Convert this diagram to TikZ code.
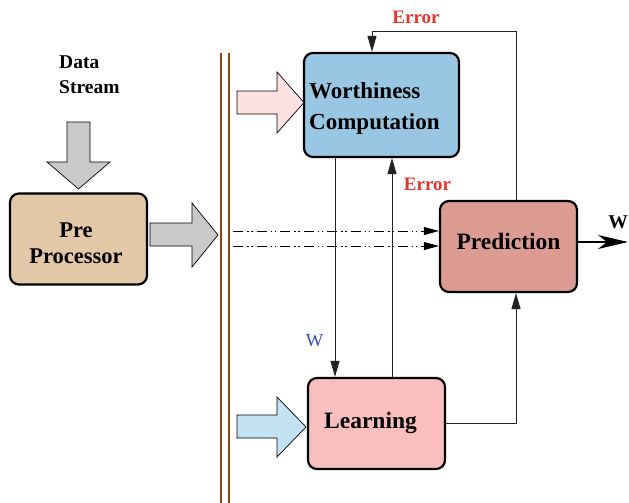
\documentclass[tikz,border=0pt]{standalone}
\usepackage{fontspec}
\setmainfont{Liberation Serif}
\usetikzlibrary{arrows.meta}

\definecolor{prefill}{HTML}{E3C8A8}
\definecolor{wcfill}{HTML}{98C6E3}
\definecolor{predfill}{HTML}{DD9C92}
\definecolor{learnfill}{HTML}{F9BFBF}
\definecolor{greyarrow}{HTML}{C8C9C9}
\definecolor{pinkarrow}{HTML}{FDE0E0}
\definecolor{bluearrow}{HTML}{C3E3F5}
\definecolor{errred}{HTML}{E0382E}
\definecolor{wblue}{HTML}{3A4DA8}
\definecolor{barbrown}{HTML}{8B4513}
\definecolor{linegrey}{HTML}{222222}

\tikzset{
  block/.style={draw=black, line width=2.2pt, rounded corners=9pt, inner sep=0pt},
  blocktext/.style={font=\bfseries\fontsize{23.5}{31}\selectfont, inner sep=0pt},
  fatarrow/.style={draw=black, line width=0.7pt, line join=miter},
  conn/.style={draw=linegrey, line width=1pt, -{Triangle[length=16pt,width=9pt]}},
  ddline/.style={draw=black, line width=1pt,
    dash pattern=on 10pt off 4pt on 1.5pt off 2.5pt on 1.5pt off 4pt,
    -{Triangle[length=15pt,width=8pt]}},
  outarrow/.style={draw=black, line width=1.8pt,
    -{Stealth[length=30pt,width=14pt,inset=9pt]}},
  errlabel/.style={font=\bfseries\fontsize{19}{22}\selectfont, text=errred, inner sep=0pt, anchor=base},
  barline/.style={draw=barbrown, line width=2pt},
}

\begin{document}
\begin{tikzpicture}[x=1pt, y=-1pt]
\useasboundingbox (0,0) rectangle (629,503);

% main blocks
\node[block, fill=prefill,   minimum width=137pt, minimum height=91pt] (pre)   at (78.5,239)  {};
\node[block, fill=wcfill,    minimum width=155pt, minimum height=104pt] (wc)   at (381.5,105) {};
\node[block, fill=predfill,  minimum width=137pt, minimum height=91pt] (pred)  at (508.5,246.5) {};
\node[block, fill=learnfill, minimum width=137pt, minimum height=91pt] (learn) at (376.5,423.5) {};

% block captions
\node[blocktext, align=center, font=\bfseries\fontsize{22.5}{26}\selectfont] (pretext) at (76,243) {Pre\\Processor};
\node[blocktext, align=left, anchor=west, font=\bfseries\fontsize{23}{31}\selectfont] (wctext) at (309,108) {Worthiness\\Computation};
\node[blocktext, anchor=base] (predtext) at (508.5,249) {Prediction};
\node[blocktext, anchor=base] (learntext) at (370.5,428) {Learning};

% input label
\node[font=\bfseries\fontsize{19.5}{25}\selectfont, align=left, anchor=north west, inner sep=0pt] (ds) at (59,56) {Data\\Stream};

% broad input arrows
\draw[fatarrow, fill=greyarrow] (67,122) -- (90,122) -- (90,162) -- (110,162) -- (78.5,189) -- (47,162) -- (67,162) -- cycle;
\draw[fatarrow, fill=greyarrow] (150,223) -- (192,223) -- (192,203) -- (218,235) -- (192,267) -- (192,246) -- (150,246) -- cycle;
\draw[fatarrow, fill=pinkarrow] (237,91) -- (277,91) -- (277,72) -- (304,102.5) -- (277,133) -- (277,114) -- (237,114) -- cycle;
\draw[fatarrow, fill=bluearrow] (237,415) -- (277,415) -- (277,397) -- (306,427) -- (277,457) -- (277,438) -- (237,438) -- cycle;

% double separator bar
\draw[barline] (221,53) -- (221,503);
\draw[barline] (228.5,53) -- (228.5,503);

% routing coordinates
\coordinate (xw) at (335,0);
\coordinate (xe) at (392,0);
\coordinate (xp) at (516,0);
\coordinate (xt) at (372,0);
\coordinate (ytop) at (0,32);
\coordinate (d1) at (233,231);
\coordinate (d2) at (233,246);
\coordinate (wout) at (628,242);

% feedback and data paths
\draw[conn] (wc.south -| xw) -- (learn.north -| xw);
\draw[conn] (learn.north -| xe) -- (wc.south -| xe);
\draw[conn] (pred.north -| xp) -- (xp |- ytop) -- (xt |- ytop) -- (wc.north -| xt);
\draw[conn] (learn.east) -- (learn.east -| xp) -- (pred.south -| xp);

% dash-dot streams into prediction
\draw[ddline] (d1) -- (pred.west |- d1);
\draw[ddline] (d2) -- (pred.west |- d2);

% output
\draw[outarrow] (pred.east |- wout) -- (wout);

% labels
\node[errlabel] (err1) at (416,24) {Error};
\node[errlabel] (err2) at (427.5,190) {Error};
\node[font=\fontsize{18.5}{22}\selectfont, text=wblue, inner sep=0pt] (wlab) at (314.5,341) {W};
\node[font=\bfseries\fontsize{19.5}{22}\selectfont, inner sep=0pt] (wres) at (618,222) {W};
\end{tikzpicture}
\end{document}
